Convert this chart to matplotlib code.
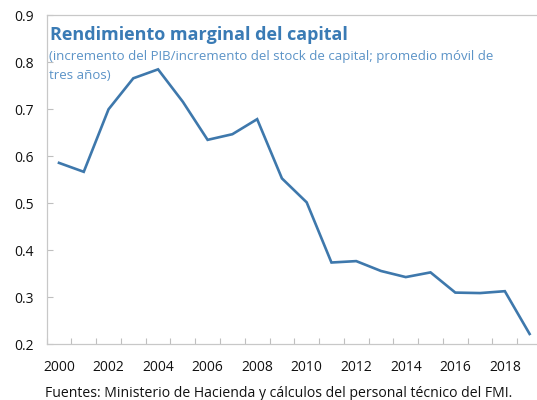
import matplotlib
matplotlib.use("Agg")
import matplotlib.pyplot as plt
from matplotlib.ticker import MultipleLocator, FixedLocator

years = [2000, 2001, 2002, 2003, 2004, 2005, 2006, 2007, 2008, 2009,
         2010, 2011, 2012, 2013, 2014, 2015, 2016, 2017, 2018, 2019]
rendimiento = [0.586, 0.567, 0.700, 0.766, 0.785, 0.716, 0.635, 0.647, 0.679, 0.553,
               0.502, 0.374, 0.377, 0.356, 0.343, 0.353, 0.310, 0.309, 0.313, 0.222]
tick_years = list(range(2000, 2019, 2))

title = "Rendimiento marginal del capital"
subtitle_1 = "(incremento del PIB/incremento del stock de capital; promedio móvil de"
subtitle_2 = "tres años)"
source = "Fuentes: Ministerio de Hacienda y cálculos del personal técnico del FMI."

plt.rcParams['font.family'] = ['Open Sans', 'DejaVu Sans']

W, H = 537, 400
fig = plt.figure(figsize=(W / 100, H / 100), dpi=100)

# plot area in pixels: left 46.6, right 542 (runs past the image), top 15.3, bottom 344.3
left, right, top, bottom = 46.6, 542.0, 15.3, 344.3
ax = fig.add_axes([left / W, 1 - bottom / H, (right - left) / W, (bottom - top) / H])

ax.plot(years, rendimiento, color="#3E78AC", linewidth=1.9, solid_joinstyle="miter")

ax.set_xlim(1999.5, 2019.5)
ax.set_ylim(0.2, 0.9)
ax.yaxis.set_major_locator(MultipleLocator(0.1))
ax.yaxis.set_major_formatter(plt.FuncFormatter(lambda v, p: f"{v:.1f}"))

# category-style axis: ticks between years, labels every two years
ax.xaxis.set_major_locator(FixedLocator([y + 0.5 for y in range(1999, 2020)]))
ax.xaxis.set_major_formatter(plt.NullFormatter())
ax.xaxis.set_minor_locator(FixedLocator(tick_years))
ax.xaxis.set_minor_formatter(plt.FuncFormatter(lambda v, p: f"{int(round(v))}"))

ax.tick_params(axis="x", which="major", direction="in", length=4, width=0.8, color="#BFBFBF")
ax.tick_params(axis="x", which="minor", length=0, labelsize=10, pad=11, labelcolor="#111111")
ax.tick_params(axis="y", which="major", direction="in", length=4, width=0.8, color="#BFBFBF",
               labelsize=10, pad=9, labelcolor="#111111")

for s in ax.spines.values():
    s.set_color("#C8C8C8")
    s.set_linewidth(0.9)

fig.text(50 / W, 1 - 40 / H, title, fontsize=13, fontweight="bold", color="#3A7BB5",
         va="baseline", ha="left")
fig.text(49 / W, 1 - 60 / H, subtitle_1, fontsize=9.55, color="#5B93C7",
         va="baseline", ha="left")
fig.text(49 / W, 1 - 79 / H, subtitle_2, fontsize=9.55, color="#5B93C7",
         va="baseline", ha="left")
fig.text(45 / W, 1 - 397 / H, source, fontsize=10.1, color="#111111",
         va="baseline", ha="left")

fig.savefig("out.png", dpi=100)
